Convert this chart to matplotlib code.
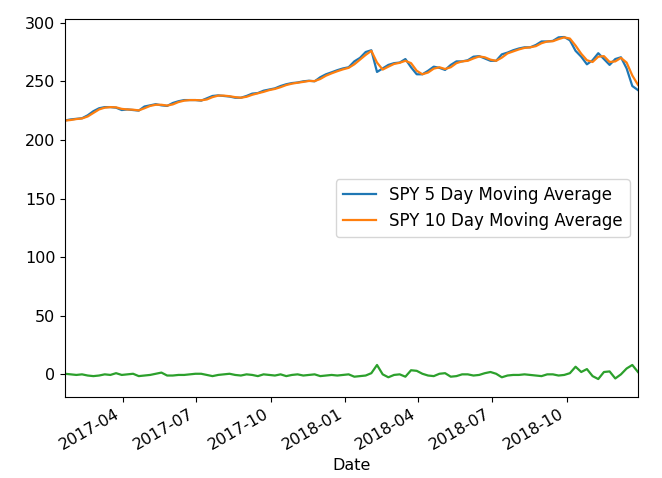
import matplotlib
matplotlib.use("Agg")
import matplotlib.pyplot as plt
import matplotlib.dates as mdates
import pandas as pd

start_date = "2017-01-20"
freq = "W-FRI"

ma5 = [216.6, 217.5, 218.0, 218.5, 221.0, 224.5, 227.0, 228.0, 228.0, 227.5,
       225.5, 226.0, 225.5, 225.0, 228.5, 229.5, 230.5, 229.5, 229.0, 231.5,
       233.0, 234.0, 234.0, 234.0, 233.5, 235.5, 237.5, 238.0, 237.5, 237.0,
       236.0, 236.0, 237.5, 239.5, 240.0, 242.0, 243.0, 244.0, 246.0, 247.5,
       248.5, 249.0, 250.0, 250.5, 250.0, 253.5, 256.0, 257.7, 259.5, 261.0,
       262.0, 267.0, 270.0, 275.0, 276.5, 258.0, 261.0, 264.0, 265.5, 266.0,
       269.0, 262.0, 256.0, 256.0, 259.0, 262.5, 261.5, 259.7, 264.0, 267.0,
       267.0, 268.0, 271.0, 271.5, 269.5, 267.5, 267.5, 273.0, 274.5, 276.5,
       278.0, 279.0, 279.0, 281.0, 284.0, 284.0, 284.5, 287.5, 287.8, 285.0,
       276.0, 271.0, 264.5, 268.0, 274.0, 269.0, 264.0, 269.0, 270.5, 261.0,
       246.0, 242.5]

ma10 = [216.5, 217.0, 217.8, 218.3, 220.0, 223.0, 226.0, 227.5, 228.0, 227.8,
        226.5, 226.0, 225.8, 225.2, 227.0, 229.0, 230.0, 230.0, 229.3, 230.3,
        232.3, 233.5, 234.0, 234.0, 233.8, 234.5, 236.5, 237.8, 237.8, 237.3,
        236.5, 236.0, 236.8, 238.5, 239.8, 241.0, 242.5, 243.5, 245.0, 246.8,
        248.0, 248.8, 249.5, 250.3, 250.2, 252.0, 254.8, 256.8, 258.6, 260.2,
        261.5, 264.5, 268.5, 272.5, 276.0, 266.0, 260.0, 262.5, 264.8, 265.8,
        267.5, 265.5, 259.0, 256.0, 257.5, 260.8, 262.0, 260.5, 262.0, 265.5,
        267.0, 267.5, 269.5, 271.2, 270.5, 268.5, 267.5, 270.2, 273.8, 275.5,
        277.2, 278.5, 279.0, 280.0, 282.5, 284.0, 284.2, 286.0, 287.5, 286.5,
        280.5, 273.5, 268.0, 266.5, 271.0, 271.5, 266.5, 267.0, 270.0, 266.0,
        255.0, 247.0]

diff = [0.5, 0.0, -0.5, 0.0, -1.0, -1.5, -1.0, 0.0, -0.5, 1.0,
        -0.5, 0.0, 0.5, -1.5, -1.0, -0.5, 0.5, 1.5, -1.0, -1.0,
        -0.5, -0.5, 0.0, 0.5, 0.5, -0.5, -1.5, -0.5, 0.0, 0.5,
        -0.5, -1.0, 0.0, -0.5, -1.5, 0.0, -0.5, -1.0, 0.0, -1.5,
        -0.5, 0.0, -1.0, -0.5, 0.0, -1.5, -1.0, -0.5, -1.0, -0.5,
        0.0, -2.0, -1.5, -1.0, 1.0, 8.0, 0.0, -2.5, -0.5, 0.0,
        -2.0, 3.5, 3.0, 0.5, -1.0, -1.5, 0.5, 1.0, -2.0, -1.5,
        0.0, 0.0, -1.0, -0.5, 1.0, 2.0, 0.5, -2.5, -1.0, -0.5,
        -0.5, 0.0, -0.5, -1.0, -1.5, 0.0, 0.0, -1.0, -0.5, 1.0,
        6.5, 2.0, 4.5, -1.5, -4.0, 2.0, 2.5, -3.5, 0.0, 5.0,
        8.0, 2.0]

dates = pd.date_range(start=start_date, periods=len(ma5), freq=freq)

fig = plt.figure(figsize=(6.62, 4.78), dpi=100)
ax = fig.add_axes([0.0982, 0.170, 0.8655, 0.7896])

ax.plot(dates, ma5, color="#1f77b4", lw=1.6, label="SPY 5 Day Moving Average")
ax.plot(dates, ma10, color="#ff7f0e", lw=1.6, label="SPY 10 Day Moving Average")
ax.plot(dates, diff, color="#2ca02c", lw=1.6, label="_nolegend_")

ax.set_xlim(dates[0], dates[-1])
ax.set_ylim(-19.1, 302.9)
ax.xaxis.set_major_locator(mdates.MonthLocator(bymonth=[1, 4, 7, 10]))
ax.xaxis.set_major_formatter(mdates.DateFormatter("%Y-%m"))
ax.tick_params(labelsize=11.5)
for lbl in ax.get_xticklabels():
    lbl.set_rotation(30)
    lbl.set_ha("right")
ax.set_yticks([0, 50, 100, 150, 200, 250, 300])
ax.set_xlabel("Date", fontsize=11.5)
ax.legend(loc="center right", fontsize=12)

fig.savefig("out.png", dpi=100)
